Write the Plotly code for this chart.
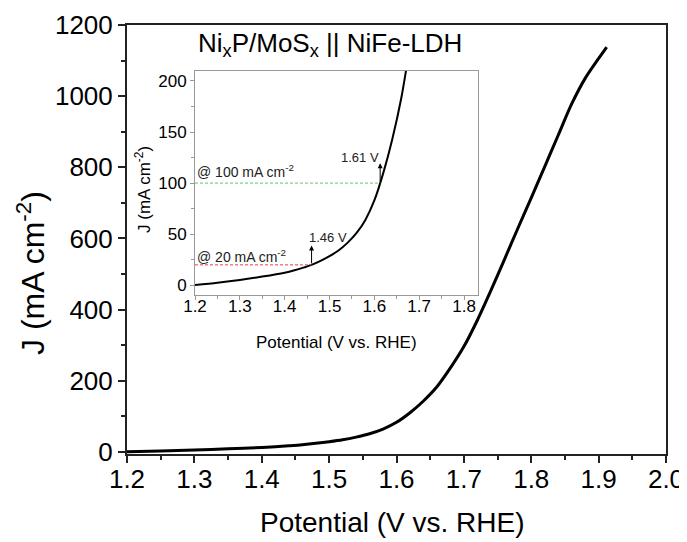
import plotly.graph_objects as go

# ---- data ----
potential = [1.20, 1.25, 1.30, 1.35, 1.40, 1.42, 1.44, 1.46, 1.48, 1.50, 1.52, 1.54,
             1.56, 1.58, 1.60, 1.62, 1.64, 1.66, 1.68, 1.70, 1.72, 1.74, 1.76,
             1.78, 1.80, 1.82, 1.84, 1.86, 1.88, 1.90, 1.912]
current = [0.3, 2.5, 5.2, 8.5, 12.3, 14.4, 17, 20, 23.9, 28.5, 34, 41.5,
           51, 64, 83, 110, 143, 183, 236, 296, 370, 453, 540,
           628, 714, 802, 890, 978, 1050, 1106, 1138]

ref20_v, ref20_j = 1.46, 20
ref100_v, ref100_j = 1.613, 100

main_xticks = [1.2, 1.3, 1.4, 1.5, 1.6, 1.7, 1.8, 1.9, 2.0]
main_yticks = [0, 200, 400, 600, 800, 1000, 1200]
inset_xticks = [1.2, 1.3, 1.4, 1.5, 1.6, 1.7, 1.8]
inset_yticks = [0, 50, 100, 150, 200]

FONT = "Liberation Sans, Arial, sans-serif"

# the page body has an 8px margin; the figure is sized to fit the window after it
OFF = 8
W, H = 687 - OFF, 542 - OFF
# plot-area geometry in window pixels
L, R, T, B = 127, 666, 25, 454
def px(xp):
    return (xp - L) / (R - L)
def py(yp):
    return (B - yp) / (B - T)

fig = go.Figure()

# main curve
fig.add_trace(go.Scatter(x=potential, y=current, mode="lines",
                         line=dict(color="black", width=3, shape="spline", smoothing=0.8),
                         xaxis="x", yaxis="y", showlegend=False, hoverinfo="skip"))

# inset curve
inset_v = [v for v, j in zip(potential, current) if j <= 300]
inset_j = [j for v, j in zip(potential, current) if j <= 300]
fig.add_trace(go.Scatter(x=inset_v, y=inset_j, mode="lines",
                         line=dict(color="black", width=2, shape="spline", smoothing=0.8),
                         xaxis="x2", yaxis="y2", showlegend=False, hoverinfo="skip",
                         cliponaxis=True))

# reference dashed lines
fig.add_trace(go.Scatter(x=[1.2, ref20_v], y=[ref20_j, ref20_j], mode="lines",
                         line=dict(color="#e04545", width=1, dash="3px,2px"),
                         xaxis="x2", yaxis="y2", showlegend=False, hoverinfo="skip"))
fig.add_trace(go.Scatter(x=[1.2, ref100_v], y=[ref100_j, ref100_j], mode="lines",
                         line=dict(color="#5ccc5c", width=1, dash="3px,2px"),
                         xaxis="x2", yaxis="y2", showlegend=False, hoverinfo="skip"))

axis_common = dict(showgrid=False, zeroline=False, mirror=True, showline=True, automargin=False)

fig.update_layout(
    width=W, height=H,
    margin=dict(l=L - OFF, r=W - (R - OFF), t=T - OFF, b=H - (B - OFF), pad=0),
    plot_bgcolor="white", paper_bgcolor="white",
    font=dict(family=FONT, color="black"),
    xaxis=dict(**axis_common, domain=[0, 1], range=[1.2, 2.0],
               tickvals=main_xticks, tickformat=".1f",
               linecolor="#222", linewidth=2, ticks="outside", ticklen=7, tickwidth=1.5,
               tickcolor="#222", ticklabelstandoff=-6,
               minor=dict(dtick=0.05, ticks="outside", ticklen=4, tickcolor="#222"),
               tickfont=dict(size=26)),
    yaxis=dict(**axis_common, domain=[0, 1], range=[-6, 1200],
               tickvals=main_yticks,
               linecolor="#222", linewidth=2, ticks="outside", ticklen=7, tickwidth=1.5,
               tickcolor="#222",
               minor=dict(dtick=100, ticks="outside", ticklen=4, tickcolor="#222"),
               tickfont=dict(size=26)),
    xaxis2=dict(**axis_common, domain=[px(195), px(478)], anchor="y2", range=[1.2, 1.8312],
                tickvals=inset_xticks, tickformat=".1f",
                linecolor="#999", linewidth=1, ticks="outside", ticklen=4,
                tickcolor="#999", ticklabelstandoff=-8,
                minor=dict(dtick=0.05, ticks="outside", ticklen=3, tickcolor="#999"),
                tickfont=dict(size=17)),
    yaxis2=dict(**axis_common, domain=[py(295), py(71)], anchor="x2", range=[-9.5, 209.7],
                tickvals=inset_yticks,
                linecolor="#999", linewidth=1, ticks="outside", ticklen=4,
                tickcolor="#999",
                minor=dict(dtick=25, ticks="outside", ticklen=3, tickcolor="#999"),
                tickfont=dict(size=17)),
)

def note(text, x, y, size, **kw):
    d = dict(text=text, x=x, y=y, showarrow=False,
             font=dict(size=size, family=FONT, color=kw.pop("color", "black")))
    d.update(kw)
    return d

annotations = [
    note("Ni<sub>x</sub>P/MoS<sub>x</sub> || NiFe-LDH", px(330), py(45), 26,
         xref="paper", yref="paper", xanchor="center", yanchor="middle"),
    # main axis titles
    note("Potential (V vs. RHE)", px(392), py(522), 28,
         xref="paper", yref="paper", xanchor="center", yanchor="middle"),
    note("J (mA cm<sup>-2</sup>)", px(31), py(273), 32, textangle=-90,
         xref="paper", yref="paper", xanchor="center", yanchor="middle"),
    # inset axis titles
    note("Potential (V vs. RHE)", px(336.5), py(342), 17,
         xref="paper", yref="paper", xanchor="center", yanchor="middle"),
    note("J (mA cm<sup>-2</sup>)", px(143), py(190), 17, textangle=-90,
         xref="paper", yref="paper", xanchor="center", yanchor="middle"),
    # arrows
    dict(x=ref20_v, y=39, ax=ref20_v, ay=ref20_j, xref="x2", yref="y2", axref="x2", ayref="y2",
         text="", showarrow=True, arrowhead=2, arrowsize=1, arrowwidth=1, arrowcolor="black"),
    dict(x=ref100_v, y=119.5, ax=ref100_v, ay=ref100_j, xref="x2", yref="y2", axref="x2", ayref="y2",
         text="", showarrow=True, arrowhead=2, arrowsize=1, arrowwidth=1, arrowcolor="black"),
    # labels
    note("1.46 V", 1.449, 47, 13, xref="x2", yref="y2", xanchor="left", yanchor="middle",
         color="#222"),
    note("1.61 V", 1.614, 125, 13, xref="x2", yref="y2", xanchor="right", yanchor="middle",
         color="#222"),
    note("@ 100 mA cm<sup>-2</sup>", 1.201, 111.5, 14, xref="x2", yref="y2",
         xanchor="left", yanchor="middle", color="#222"),
    note("@ 20 mA cm<sup>-2</sup>", 1.201, 28.6, 14, xref="x2", yref="y2",
         xanchor="left", yanchor="middle", color="#222"),
]
fig.update_layout(annotations=annotations)

fig.write_html("out.html")
